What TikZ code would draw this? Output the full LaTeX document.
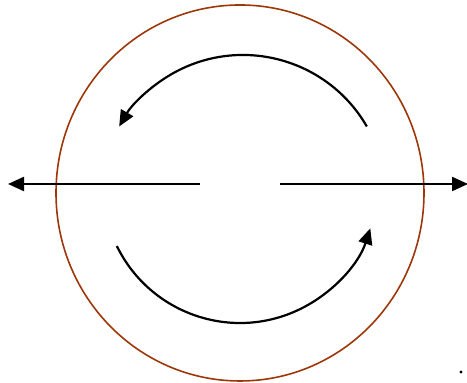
\documentclass[tikz,border=0pt]{standalone}
\usepackage{tikz}
\usetikzlibrary{arrows.meta,positioning,calc}
\definecolor{ringbrown}{RGB}{158,55,8}

\begin{document}
\begin{tikzpicture}[
        x=0.5pt, y=0.5pt,
        ring/.style={draw=ringbrown, line width=0.8pt},
        arrow/.style={-{Triangle[length=8pt, width=7pt]}, line width=1.1pt},
        swirl/.style={-{Triangle[length=8pt, width=7pt]}, line width=1.1pt}
        ]
        \useasboundingbox (0,0) rectangle (467,383);

        \coordinate (centre) at (240,190);
        \draw[ring] (centre) ellipse [x radius=184, y radius=188];

        % horizontal arrows
        \coordinate (leftstart) at (200,199);
        \coordinate (lefttip) at (8,199);
        \coordinate (rightstart) at (280,199);
        \coordinate (righttip) at (468,199);
        \draw[arrow] (leftstart) -- (lefttip);
        \draw[arrow] (rightstart) -- (righttip);

        % turning arrows
        \coordinate (upperstart) at ($(243,185)+(30:143)$);
        \coordinate (lowerstart) at ($(240,197)+(206:137)$);
        \draw[swirl] (upperstart) arc [start angle=30, end angle=150, radius=143];
        \draw[swirl] (lowerstart) arc [start angle=206, end angle=342, radius=137];

        \fill (461,11) circle [radius=1.6];
    \end{tikzpicture}
\end{document}
